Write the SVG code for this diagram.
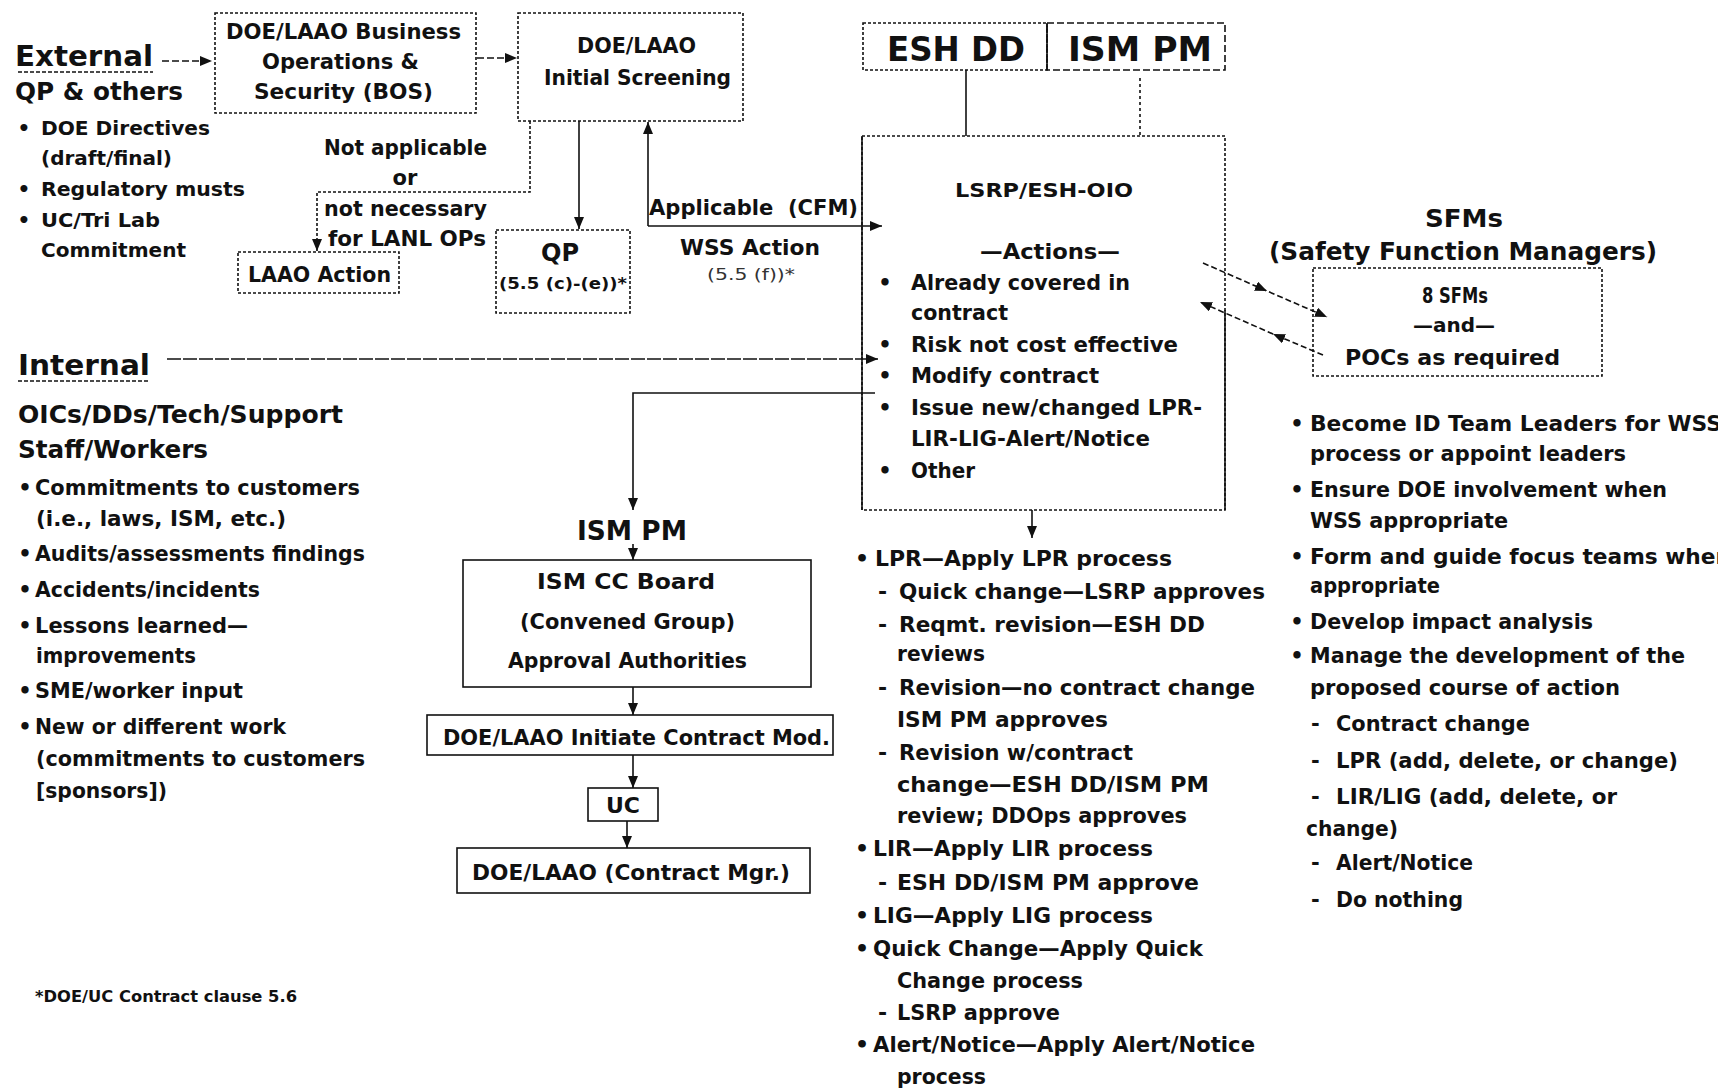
<svg xmlns="http://www.w3.org/2000/svg" width="1718" height="1089" viewBox="0 0 1718 1089">
<style>
text{font-family:"DejaVu Sans","Liberation Sans",Arial,sans-serif;font-weight:bold;fill:#111}
.box{fill:none;stroke:#111;stroke-width:1.6}
.dot{stroke-dasharray:3 2}
.dash{stroke-dasharray:7 3}
.ln{fill:none;stroke:#111;stroke-width:1.6}
.f34{font-size:34px}.f28{font-size:28px}.f26{font-size:26px}.f25{font-size:25px}.f24{font-size:24px}.f22{font-size:22px}.f21{font-size:21px}.f20{font-size:20px}.f16{font-size:16px}.f15{font-size:15px}
.faint{font-weight:normal;fill:#333}
</style>
<defs>
<marker id="ah" viewBox="0 0 12 10" refX="12" refY="5" markerWidth="12" markerHeight="10" markerUnits="userSpaceOnUse" orient="auto"><path d="M0,0 L12,5 L0,10 z" fill="#111"/></marker>
</defs>

<g id="connectors">
<path class="ln dash" d="M162,61 L212,61" marker-end="url(#ah)"/>
<path class="ln dash" d="M477,58 L517,58" marker-end="url(#ah)"/>
<path class="ln dot" d="M530,121 L530,192 L317,192 L317,251" marker-end="url(#ah)"/>
<path class="ln" d="M579,121 L579,229" marker-end="url(#ah)"/>
<path class="ln" d="M648,226 L648,122" marker-end="url(#ah)"/>
<path class="ln" d="M648,226 L882,226" marker-end="url(#ah)"/>
<path class="ln" d="M167,359 L878,359" stroke-dasharray="14 2" marker-end="url(#ah)"/>
<path class="ln" d="M966,70 L966,136"/>
<path class="ln" d="M1140,78 L1140,136" stroke-dasharray="3 3"/>
<path class="ln" d="M875,393 L633,393 L633,510" marker-end="url(#ah)"/>
<path class="ln" d="M633,544 L633,560" marker-end="url(#ah)"/>
<path class="ln" d="M1032,510 L1032,538" marker-end="url(#ah)"/>
<path class="ln" d="M633,687 L633,715" marker-end="url(#ah)"/>
<path class="ln" d="M633,755 L633,788" marker-end="url(#ah)"/>
<path class="ln" d="M627,821 L627,848" marker-end="url(#ah)"/>
<path class="ln" d="M1203,263 L1267,291 L1327,317" stroke-dasharray="6 3" marker-mid="url(#ah)" marker-end="url(#ah)"/>
<path class="ln" d="M1323,355 L1273,334 L1200,302" stroke-dasharray="6 3" marker-mid="url(#ah)" marker-end="url(#ah)"/>
</g>

<g id="external">
<text class="f28" x="15" y="66" textLength="138" lengthAdjust="spacingAndGlyphs">External</text>
<path class="ln" d="M18,72 L153,72" stroke-dasharray="4 2" stroke-width="1.4"/>
<text class="f24" x="15" y="100" textLength="168" lengthAdjust="spacingAndGlyphs">QP &amp; others</text>
<g class="f20">
<text x="24" y="135" text-anchor="middle">•</text>
<text x="41" y="135" textLength="169" lengthAdjust="spacingAndGlyphs">DOE Directives</text>
<text x="41" y="165" textLength="131" lengthAdjust="spacingAndGlyphs">(draft/final)</text>
<text x="24" y="196" text-anchor="middle">•</text>
<text x="41" y="196" textLength="204" lengthAdjust="spacingAndGlyphs">Regulatory musts</text>
<text x="24" y="227" text-anchor="middle">•</text>
<text x="41" y="227" textLength="119" lengthAdjust="spacingAndGlyphs">UC/Tri Lab</text>
<text x="41" y="257" textLength="145" lengthAdjust="spacingAndGlyphs">Commitment</text>
</g>
</g>

<g id="bos">
<rect class="box dot" x="215" y="13" width="261" height="100"/>
<text class="f22" x="226" y="39" textLength="235" lengthAdjust="spacingAndGlyphs">DOE/LAAO Business</text>
<text class="f22" x="262" y="69" textLength="157" lengthAdjust="spacingAndGlyphs">Operations &amp;</text>
<text class="f22" x="254" y="99" textLength="179" lengthAdjust="spacingAndGlyphs">Security (BOS)</text>
</g>

<g id="screening">
<rect class="box dot" x="518" y="13" width="225" height="108"/>
<text class="f22" x="577" y="53" textLength="119" lengthAdjust="spacingAndGlyphs">DOE/LAAO</text>
<text class="f22" x="544" y="85" textLength="187" lengthAdjust="spacingAndGlyphs">Initial Screening</text>
</g>

<g id="not-applicable-label" class="f21">
<text x="324" y="155" textLength="163" lengthAdjust="spacingAndGlyphs">Not applicable</text>
<text x="405" y="185" text-anchor="middle">or</text>
<text x="324" y="216" textLength="163" lengthAdjust="spacingAndGlyphs">not necessary</text>
<text x="328" y="246" textLength="158" lengthAdjust="spacingAndGlyphs">for LANL OPs</text>
</g>

<g id="laao-action">
<rect class="box dot" x="238" y="252" width="161" height="41"/>
<text class="f22" x="248" y="282" textLength="143" lengthAdjust="spacingAndGlyphs">LAAO Action</text>
</g>

<g id="qp">
<rect class="box dot" x="496" y="230" width="134" height="83"/>
<text class="f24" x="560" y="261" text-anchor="middle">QP</text>
<text class="f16" x="499" y="289" textLength="128" lengthAdjust="spacingAndGlyphs">(5.5 (c)-(e))*</text>
</g>

<g id="wss-label">
<text class="f22" x="649" y="215" textLength="209" lengthAdjust="spacingAndGlyphs" xml:space="preserve">Applicable  (CFM)</text>
<text class="f22" x="680" y="255" textLength="140" lengthAdjust="spacingAndGlyphs">WSS Action</text>
<text class="f15 faint" x="707" y="280" textLength="88" lengthAdjust="spacingAndGlyphs">(5.5 (f))*</text>
</g>

<g id="esh-dd">
<rect class="box dot" x="863" y="23" width="184" height="47"/>
<text class="f34" x="887" y="61" textLength="138" lengthAdjust="spacingAndGlyphs">ESH DD</text>
</g>
<g id="ism-pm-top">
<rect class="box dash" x="1047" y="23" width="178" height="47"/>
<path class="ln" d="M1047,23 L1047,70"/>
<text class="f34" x="1068" y="61" textLength="144" lengthAdjust="spacingAndGlyphs">ISM PM</text>
</g>

<g id="lsrp">
<rect class="box dot" x="862" y="136" width="363" height="374"/>
<path class="ln" d="M862,136 L862,510 M1225,310 L1225,510"/>
<text class="f20" x="955" y="197" textLength="178" lengthAdjust="spacingAndGlyphs">LSRP/ESH-OIO</text>
<text class="f21" x="980" y="259" textLength="140" lengthAdjust="spacingAndGlyphs">—Actions—</text>
<g class="f21">
<text x="885" y="290" text-anchor="middle">•</text>
<text x="911" y="290" textLength="219" lengthAdjust="spacingAndGlyphs">Already covered in</text>
<text x="911" y="320" textLength="97" lengthAdjust="spacingAndGlyphs">contract</text>
<text x="885" y="352" text-anchor="middle">•</text>
<text x="911" y="352" textLength="267" lengthAdjust="spacingAndGlyphs">Risk not cost effective</text>
<text x="885" y="383" text-anchor="middle">•</text>
<text x="911" y="383" textLength="188" lengthAdjust="spacingAndGlyphs">Modify contract</text>
<text x="885" y="415" text-anchor="middle">•</text>
<text x="911" y="415" textLength="291" lengthAdjust="spacingAndGlyphs">Issue new/changed LPR-</text>
<text x="911" y="446" textLength="239" lengthAdjust="spacingAndGlyphs">LIR-LIG-Alert/Notice</text>
<text x="885" y="478" text-anchor="middle">•</text>
<text x="911" y="478" textLength="64" lengthAdjust="spacingAndGlyphs">Other</text>
</g>
</g>

<g id="sfms">
<text class="f25" x="1425" y="227" textLength="78" lengthAdjust="spacingAndGlyphs">SFMs</text>
<text class="f25" x="1269" y="260" textLength="388" lengthAdjust="spacingAndGlyphs">(Safety Function Managers)</text>
<rect class="box dot" x="1313" y="268" width="289" height="108"/>
<text class="f21" x="1422" y="303" textLength="66" lengthAdjust="spacingAndGlyphs">8 SFMs</text>
<text class="f20" x="1413" y="332" textLength="82" lengthAdjust="spacingAndGlyphs">—and—</text>
<text class="f21" x="1345" y="365" textLength="215" lengthAdjust="spacingAndGlyphs">POCs as required</text>
</g>

<g id="sfm-tasks" class="f21">
<text x="1297" y="431" text-anchor="middle">•</text>
<text x="1310" y="431" textLength="412" lengthAdjust="spacingAndGlyphs">Become ID Team Leaders for WSS</text>
<text x="1310" y="461" textLength="316" lengthAdjust="spacingAndGlyphs">process or appoint leaders</text>
<text x="1297" y="497" text-anchor="middle">•</text>
<text x="1310" y="497" textLength="357" lengthAdjust="spacingAndGlyphs">Ensure DOE involvement when</text>
<text x="1310" y="528" textLength="198" lengthAdjust="spacingAndGlyphs">WSS appropriate</text>
<text x="1297" y="564" text-anchor="middle">•</text>
<text x="1310" y="564" textLength="421" lengthAdjust="spacingAndGlyphs">Form and guide focus teams when</text>
<text x="1310" y="593" textLength="130" lengthAdjust="spacingAndGlyphs">appropriate</text>
<text x="1297" y="629" text-anchor="middle">•</text>
<text x="1310" y="629" textLength="283" lengthAdjust="spacingAndGlyphs">Develop impact analysis</text>
<text x="1297" y="663" text-anchor="middle">•</text>
<text x="1310" y="663" textLength="375" lengthAdjust="spacingAndGlyphs">Manage the development of the</text>
<text x="1310" y="695" textLength="310" lengthAdjust="spacingAndGlyphs">proposed course of action</text>
<text x="1311" y="731">-</text>
<text x="1336" y="731" textLength="194" lengthAdjust="spacingAndGlyphs">Contract change</text>
<text x="1311" y="768">-</text>
<text x="1336" y="768" textLength="342" lengthAdjust="spacingAndGlyphs">LPR (add, delete, or change)</text>
<text x="1311" y="804">-</text>
<text x="1336" y="804" textLength="281" lengthAdjust="spacingAndGlyphs">LIR/LIG (add, delete, or</text>
<text x="1306" y="836" textLength="92" lengthAdjust="spacingAndGlyphs">change)</text>
<text x="1311" y="870">-</text>
<text x="1336" y="870" textLength="137" lengthAdjust="spacingAndGlyphs">Alert/Notice</text>
<text x="1311" y="907">-</text>
<text x="1336" y="907" textLength="127" lengthAdjust="spacingAndGlyphs">Do nothing</text>
</g>

<g id="internal">
<text class="f28" x="18" y="375" textLength="132" lengthAdjust="spacingAndGlyphs">Internal</text>
<path class="ln" d="M18,381 L150,381" stroke-dasharray="4 2" stroke-width="1.4"/>
<text class="f25" x="18" y="423" textLength="325" lengthAdjust="spacingAndGlyphs">OICs/DDs/Tech/Support</text>
<text class="f25" x="18" y="458" textLength="190" lengthAdjust="spacingAndGlyphs">Staff/Workers</text>
<g class="f21">
<text x="25" y="495" text-anchor="middle">•</text>
<text x="35" y="495" textLength="325" lengthAdjust="spacingAndGlyphs">Commitments to customers</text>
<text x="36" y="526" textLength="250" lengthAdjust="spacingAndGlyphs">(i.e., laws, ISM, etc.)</text>
<text x="25" y="561" text-anchor="middle">•</text>
<text x="35" y="561" textLength="330" lengthAdjust="spacingAndGlyphs">Audits/assessments findings</text>
<text x="25" y="597" text-anchor="middle">•</text>
<text x="35" y="597" textLength="225" lengthAdjust="spacingAndGlyphs">Accidents/incidents</text>
<text x="25" y="633" text-anchor="middle">•</text>
<text x="35" y="633" textLength="213" lengthAdjust="spacingAndGlyphs">Lessons learned—</text>
<text x="36" y="663" textLength="160" lengthAdjust="spacingAndGlyphs">improvements</text>
<text x="25" y="698" text-anchor="middle">•</text>
<text x="35" y="698" textLength="208" lengthAdjust="spacingAndGlyphs">SME/worker input</text>
<text x="25" y="734" text-anchor="middle">•</text>
<text x="35" y="734" textLength="251" lengthAdjust="spacingAndGlyphs">New or different work</text>
<text x="36" y="766" textLength="329" lengthAdjust="spacingAndGlyphs">(commitments to customers</text>
<text x="36" y="798" textLength="131" lengthAdjust="spacingAndGlyphs">[sponsors])</text>
</g>
</g>

<g id="ism-pm">
<text class="f26" x="577" y="540" textLength="110" lengthAdjust="spacingAndGlyphs">ISM PM</text>
</g>
<g id="ism-cc-board">
<rect class="box" x="463" y="560" width="348" height="127"/>
<text class="f22" x="537" y="589" textLength="178" lengthAdjust="spacingAndGlyphs">ISM CC Board</text>
<text class="f22" x="520" y="629" textLength="215" lengthAdjust="spacingAndGlyphs">(Convened Group)</text>
<text class="f22" x="508" y="668" textLength="239" lengthAdjust="spacingAndGlyphs">Approval Authorities</text>
</g>
<g id="initiate-mod">
<rect class="box" x="427" y="715" width="406" height="40"/>
<text class="f22" x="443" y="745" textLength="387" lengthAdjust="spacingAndGlyphs">DOE/LAAO Initiate Contract Mod.</text>
</g>
<g id="uc">
<rect class="box" x="588" y="788" width="70" height="33" stroke-width="2.2"/>
<text class="f22" x="623" y="813" text-anchor="middle">UC</text>
</g>
<g id="contract-mgr">
<rect class="box" x="457" y="848" width="353" height="45"/>
<text class="f22" x="472" y="880" textLength="318" lengthAdjust="spacingAndGlyphs">DOE/LAAO (Contract Mgr.)</text>
</g>

<g id="lsrp-outcomes" class="f22">
<text x="862" y="566" text-anchor="middle">•</text>
<text x="875" y="566" textLength="297" lengthAdjust="spacingAndGlyphs">LPR—Apply LPR process</text>
<text x="878" y="599">-</text>
<text x="899" y="599" textLength="366" lengthAdjust="spacingAndGlyphs">Quick change—LSRP approves</text>
<text x="878" y="632">-</text>
<text x="899" y="632" textLength="306" lengthAdjust="spacingAndGlyphs">Reqmt. revision—ESH DD</text>
<text x="897" y="661" textLength="88" lengthAdjust="spacingAndGlyphs">reviews</text>
<text x="878" y="695">-</text>
<text x="899" y="695" textLength="356" lengthAdjust="spacingAndGlyphs">Revision—no contract change</text>
<text x="897" y="727" textLength="211" lengthAdjust="spacingAndGlyphs">ISM PM approves</text>
<text x="878" y="760">-</text>
<text x="899" y="760" textLength="234" lengthAdjust="spacingAndGlyphs">Revision w/contract</text>
<text x="897" y="792" textLength="312" lengthAdjust="spacingAndGlyphs">change—ESH DD/ISM PM</text>
<text x="897" y="823" textLength="290" lengthAdjust="spacingAndGlyphs">review; DDOps approves</text>
<text x="862" y="856" text-anchor="middle">•</text>
<text x="873" y="856" textLength="280" lengthAdjust="spacingAndGlyphs">LIR—Apply LIR process</text>
<text x="878" y="890">-</text>
<text x="897" y="890" textLength="302" lengthAdjust="spacingAndGlyphs">ESH DD/ISM PM approve</text>
<text x="862" y="923" text-anchor="middle">•</text>
<text x="873" y="923" textLength="280" lengthAdjust="spacingAndGlyphs">LIG—Apply LIG process</text>
<text x="862" y="956" text-anchor="middle">•</text>
<text x="873" y="956" textLength="330" lengthAdjust="spacingAndGlyphs">Quick Change—Apply Quick</text>
<text x="897" y="988" textLength="186" lengthAdjust="spacingAndGlyphs">Change process</text>
<text x="878" y="1020">-</text>
<text x="897" y="1020" textLength="163" lengthAdjust="spacingAndGlyphs">LSRP approve</text>
<text x="862" y="1052" text-anchor="middle">•</text>
<text x="873" y="1052" textLength="382" lengthAdjust="spacingAndGlyphs">Alert/Notice—Apply Alert/Notice</text>
<text x="897" y="1084" textLength="89" lengthAdjust="spacingAndGlyphs">process</text>
</g>

<g id="footnote">
<text class="f16" x="35" y="1002" textLength="262" lengthAdjust="spacingAndGlyphs">*DOE/UC Contract clause 5.6</text>
</g>
</svg>
